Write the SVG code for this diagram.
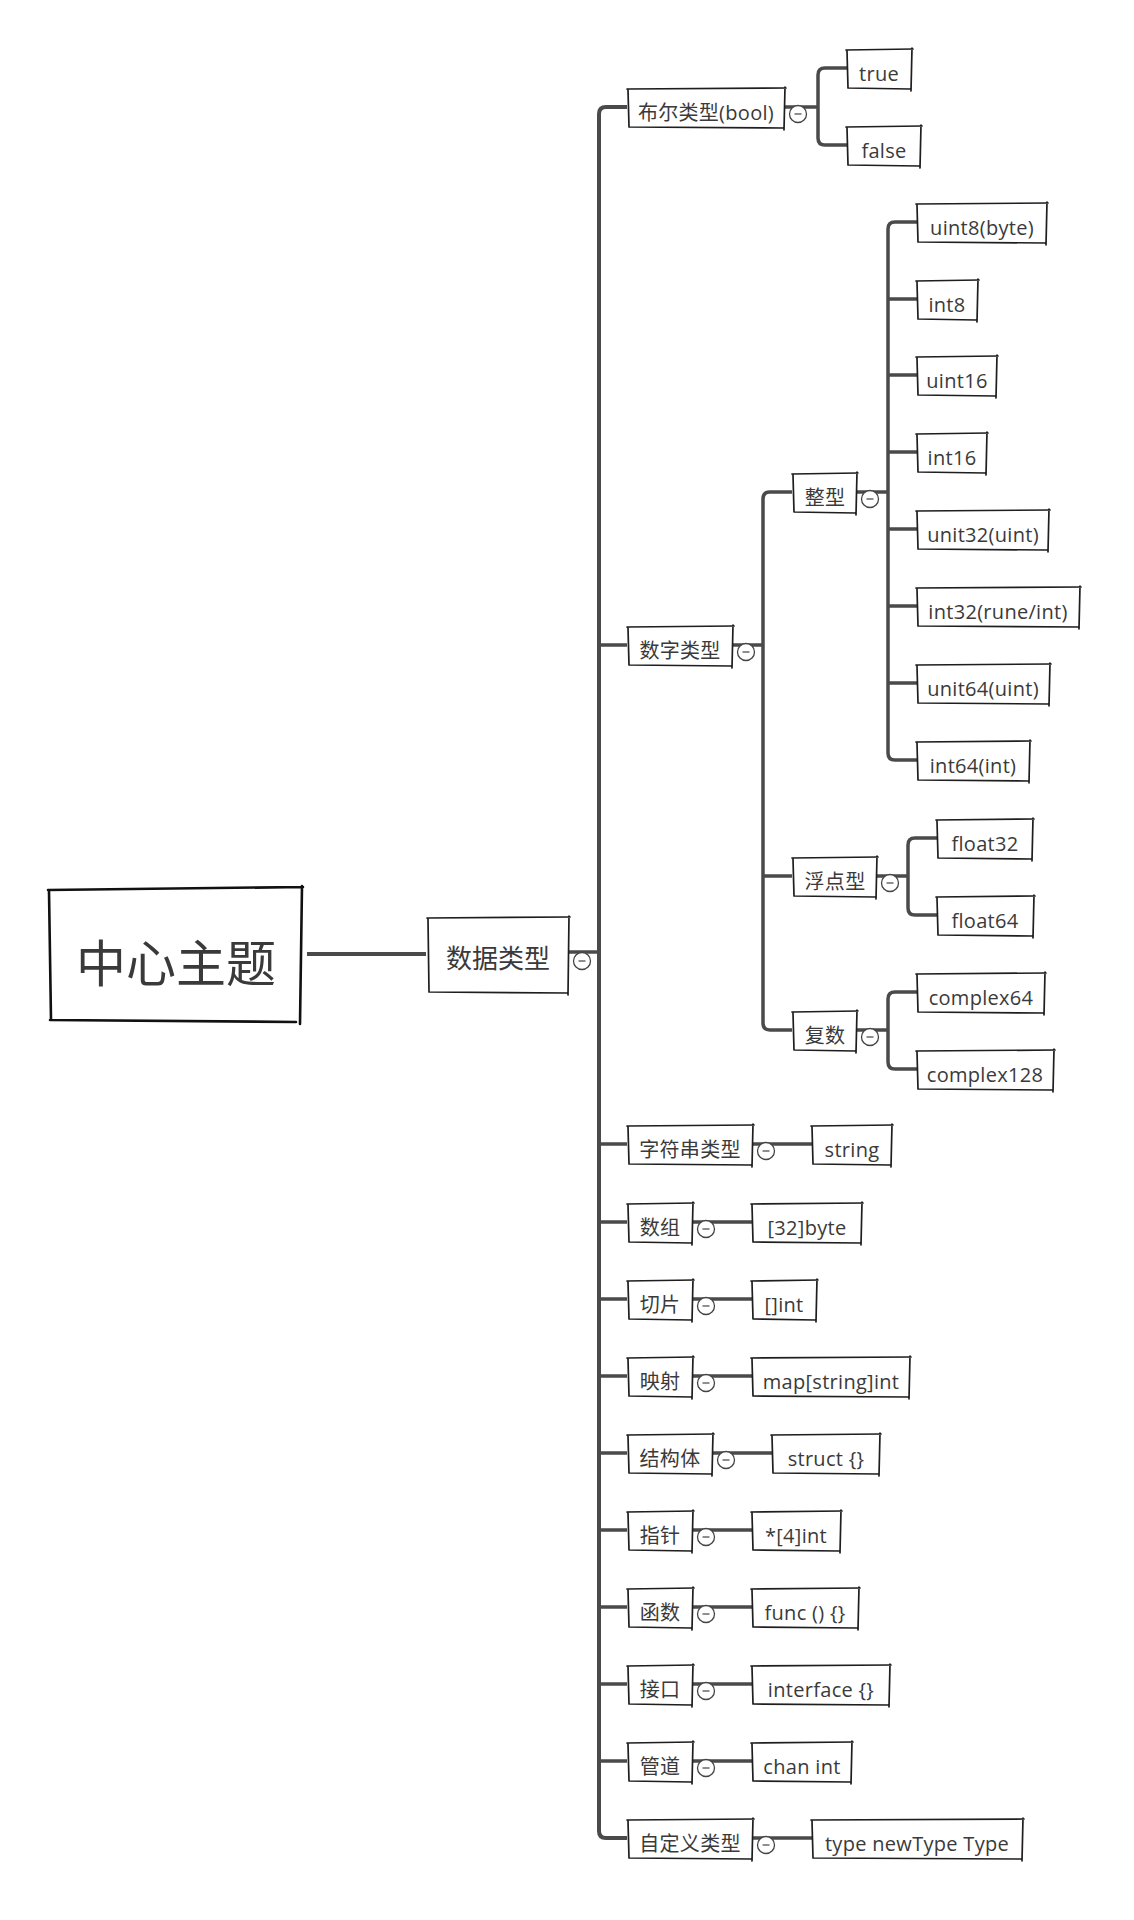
<svg xmlns="http://www.w3.org/2000/svg" width="1134" height="1920" viewBox="0 0 1134 1920">
<style>
.ln{fill:none;stroke:#4a4a4a;stroke-width:3.5;stroke-linejoin:round}
.bx{fill:none;stroke:#1e1e1e;stroke-width:1.7;stroke-linecap:round}
.bxc{fill:none;stroke:#111;stroke-width:2.6;stroke-linecap:round}
.t{font-family:"Open Sans","Noto Sans CJK SC",sans-serif;font-size:20px;fill:#3a3a3a;text-anchor:middle;letter-spacing:0.3px;transform:translateY(2px)}
.tc{font-family:"Noto Sans CJK SC",sans-serif;font-size:50px;fill:#3a3a3a;text-anchor:middle}
.t1{font-family:"Noto Sans CJK SC",sans-serif;font-size:26px;fill:#3a3a3a;text-anchor:middle;transform:translateY(1px)}
.cc{fill:#fff;stroke:#444;stroke-width:1.3}
.cm{stroke:#444;stroke-width:1.2}
</style>
<defs>
<g id="col"><circle class="cc" r="8.5"/><path class="cm" d="M-3.5,0H3.5"/></g>
</defs>
<rect width="1134" height="1920" fill="#fff"/>
<g id="connectors">
<path class="ln" style="stroke-width:4" d="M307,954H426"/>
<path class="ln" d="M569,952H599"/>
<path class="ln" style="stroke-width:4" d="M627,107H606Q599,107 599,114V1831Q599,1838 606,1838H627"/>
<path class="ln" d="M599,645H627M599,1144H627M599,1222H627M599,1299H627M599,1376H627M599,1453H627M599,1530H627M599,1607H627M599,1684H627M599,1761H627"/>
<path class="ln" d="M785,107H818M847,68H825Q818,68 818,75V138Q818,145 825,145H847"/>
<path class="ln" d="M733,645H763M792,492H770Q763,492 763,499V1023Q763,1030 770,1030H792M763,876H792"/>
<path class="ln" d="M857,492H888M917,222H895Q888,222 888,229V753Q888,760 895,760H917M888,299H917M888,375H917M888,452H917M888,529H917M888,606H917M888,683H917"/>
<path class="ln" d="M877,876H908M937,838H915Q908,838 908,845V908Q908,915 915,915H937"/>
<path class="ln" d="M857,1030H888M917,992H895Q888,992 888,999V1062Q888,1069 895,1069H917"/>
<path class="ln" d="M753,1144H812M693,1222H752M693,1299H752M693,1376H752M713,1453H772M693,1530H752M693,1607H752M693,1684H752M693,1761H752M753,1838H812"/>
</g>
<g id="n-center"><path class="bxc" d="M48,890L303,887M302,886L300,1024M50,1020L296,1022M49,891L51,1020"/><text class="tc" x="176" y="982">中心主题</text></g>
<g id="n-data"><path class="bx" d="M427,918L570,917M569,916L568,995M429,992L567,993M428,919L429,992"/><text class="t1" x="498" y="967">数据类型</text><use href="#col" x="582" y="961"/></g>
<g id="n-bool"><path class="bx" d="M627,89L786,88M785,87L784,130M629,127L783,128M628,90L629,127"/><text class="t" x="706" y="118">布尔类型(bool)</text><use href="#col" x="798" y="114"/></g>
<g id="n-true"><path class="bx" d="M846,50L913,49M912,48L911,91M848,88L910,89M847,51L848,88"/><text class="t" x="879" y="79">true</text></g>
<g id="n-false"><path class="bx" d="M846,127L922,126M921,125L920,168M848,165L919,166M847,128L848,165"/><text class="t" x="884" y="156">false</text></g>
<g id="n-num"><path class="bx" d="M627,627L734,626M733,625L732,668M629,665L731,666M628,628L629,665"/><text class="t" x="680" y="656">数字类型</text><use href="#col" x="746" y="652"/></g>
<g id="n-int"><path class="bx" d="M792,474L858,473M857,472L856,515M794,512L855,513M793,475L794,512"/><text class="t" x="825" y="503">整型</text><use href="#col" x="870" y="499"/></g>
<g id="n-uint8"><path class="bx" d="M916,204L1048,203M1047,202L1046,245M918,242L1045,243M917,205L918,242"/><text class="t" x="982" y="233">uint8(byte)</text></g>
<g id="n-int8"><path class="bx" d="M916,281L979,280M978,279L977,322M918,319L976,320M917,282L918,319"/><text class="t" x="947" y="310">int8</text></g>
<g id="n-uint16"><path class="bx" d="M916,357L998,356M997,355L996,398M918,395L995,396M917,358L918,395"/><text class="t" x="957" y="386">uint16</text></g>
<g id="n-int16"><path class="bx" d="M916,434L988,433M987,432L986,475M918,472L985,473M917,435L918,472"/><text class="t" x="952" y="463">int16</text></g>
<g id="n-unit32"><path class="bx" d="M916,511L1050,510M1049,509L1048,552M918,549L1047,550M917,512L918,549"/><text class="t" x="983" y="540">unit32(uint)</text></g>
<g id="n-int32"><path class="bx" d="M916,588L1081,587M1080,586L1079,629M918,626L1078,627M917,589L918,626"/><text class="t" x="998" y="617">int32(rune/int)</text></g>
<g id="n-unit64"><path class="bx" d="M916,665L1051,664M1050,663L1049,706M918,703L1048,704M917,666L918,703"/><text class="t" x="983" y="694">unit64(uint)</text></g>
<g id="n-int64"><path class="bx" d="M916,742L1031,741M1030,740L1029,783M918,780L1028,781M917,743L918,780"/><text class="t" x="973" y="771">int64(int)</text></g>
<g id="n-float"><path class="bx" d="M792,858L878,857M877,856L876,899M794,896L875,897M793,859L794,896"/><text class="t" x="835" y="887">浮点型</text><use href="#col" x="890" y="883"/></g>
<g id="n-float32"><path class="bx" d="M936,820L1034,819M1033,818L1032,861M938,858L1031,859M937,821L938,858"/><text class="t" x="985" y="849">float32</text></g>
<g id="n-float64"><path class="bx" d="M936,897L1035,896M1034,895L1033,938M938,935L1032,936M937,898L938,935"/><text class="t" x="985" y="926">float64</text></g>
<g id="n-complex"><path class="bx" d="M792,1012L858,1011M857,1010L856,1053M794,1050L855,1051M793,1013L794,1050"/><text class="t" x="825" y="1041">复数</text><use href="#col" x="870" y="1037"/></g>
<g id="n-complex64"><path class="bx" d="M916,974L1046,973M1045,972L1044,1015M918,1012L1043,1013M917,975L918,1012"/><text class="t" x="981" y="1003">complex64</text></g>
<g id="n-complex128"><path class="bx" d="M916,1051L1055,1050M1054,1049L1053,1092M918,1089L1052,1090M917,1052L918,1089"/><text class="t" x="985" y="1080">complex128</text></g>
<g id="n-str"><path class="bx" d="M627,1126L754,1125M753,1124L752,1167M629,1164L751,1165M628,1127L629,1164"/><text class="t" x="690" y="1155">字符串类型</text><use href="#col" x="766" y="1151"/></g>
<g id="n-string"><path class="bx" d="M811,1126L893,1125M892,1124L891,1167M813,1164L890,1165M812,1127L813,1164"/><text class="t" x="852" y="1155">string</text></g>
<g id="n-arr"><path class="bx" d="M627,1204L694,1203M693,1202L692,1245M629,1242L691,1243M628,1205L629,1242"/><text class="t" x="660" y="1233">数组</text><use href="#col" x="706" y="1229"/></g>
<g id="n-arrv"><path class="bx" d="M751,1204L863,1203M862,1202L861,1245M753,1242L860,1243M752,1205L753,1242"/><text class="t" x="807" y="1233">[32]byte</text></g>
<g id="n-slice"><path class="bx" d="M627,1281L694,1280M693,1279L692,1322M629,1319L691,1320M628,1282L629,1319"/><text class="t" x="660" y="1310">切片</text><use href="#col" x="706" y="1306"/></g>
<g id="n-slicev"><path class="bx" d="M751,1281L818,1280M817,1279L816,1322M753,1319L815,1320M752,1282L753,1319"/><text class="t" x="784" y="1310">[]int</text></g>
<g id="n-map"><path class="bx" d="M627,1358L694,1357M693,1356L692,1399M629,1396L691,1397M628,1359L629,1396"/><text class="t" x="660" y="1387">映射</text><use href="#col" x="706" y="1383"/></g>
<g id="n-mapv"><path class="bx" d="M751,1358L911,1357M910,1356L909,1399M753,1396L908,1397M752,1359L753,1396"/><text class="t" x="831" y="1387">map[string]int</text></g>
<g id="n-struct"><path class="bx" d="M627,1435L714,1434M713,1433L712,1476M629,1473L711,1474M628,1436L629,1473"/><text class="t" x="670" y="1464">结构体</text><use href="#col" x="726" y="1460"/></g>
<g id="n-structv"><path class="bx" d="M771,1435L881,1434M880,1433L879,1476M773,1473L878,1474M772,1436L773,1473"/><text class="t" x="826" y="1464">struct {}</text></g>
<g id="n-ptr"><path class="bx" d="M627,1512L694,1511M693,1510L692,1553M629,1550L691,1551M628,1513L629,1550"/><text class="t" x="660" y="1541">指针</text><use href="#col" x="706" y="1537"/></g>
<g id="n-ptrv"><path class="bx" d="M751,1512L842,1511M841,1510L840,1553M753,1550L839,1551M752,1513L753,1550"/><text class="t" x="796" y="1541">*[4]int</text></g>
<g id="n-func"><path class="bx" d="M627,1589L694,1588M693,1587L692,1630M629,1627L691,1628M628,1590L629,1627"/><text class="t" x="660" y="1618">函数</text><use href="#col" x="706" y="1614"/></g>
<g id="n-funcv"><path class="bx" d="M751,1589L860,1588M859,1587L858,1630M753,1627L857,1628M752,1590L753,1627"/><text class="t" x="805" y="1618">func () {}</text></g>
<g id="n-iface"><path class="bx" d="M627,1666L694,1665M693,1664L692,1707M629,1704L691,1705M628,1667L629,1704"/><text class="t" x="660" y="1695">接口</text><use href="#col" x="706" y="1691"/></g>
<g id="n-ifacev"><path class="bx" d="M751,1666L891,1665M890,1664L889,1707M753,1704L888,1705M752,1667L753,1704"/><text class="t" x="821" y="1695">interface {}</text></g>
<g id="n-chan"><path class="bx" d="M627,1743L694,1742M693,1741L692,1784M629,1781L691,1782M628,1744L629,1781"/><text class="t" x="660" y="1772">管道</text><use href="#col" x="706" y="1768"/></g>
<g id="n-chanv"><path class="bx" d="M751,1743L853,1742M852,1741L851,1784M753,1781L850,1782M752,1744L753,1781"/><text class="t" x="802" y="1772">chan int</text></g>
<g id="n-custom"><path class="bx" d="M627,1820L754,1819M753,1818L752,1861M629,1858L751,1859M628,1821L629,1858"/><text class="t" x="690" y="1849">自定义类型</text><use href="#col" x="766" y="1845"/></g>
<g id="n-customv"><path class="bx" d="M811,1820L1024,1819M1023,1818L1022,1861M813,1858L1021,1859M812,1821L813,1858"/><text class="t" x="917" y="1849">type newType Type</text></g>
</svg>
